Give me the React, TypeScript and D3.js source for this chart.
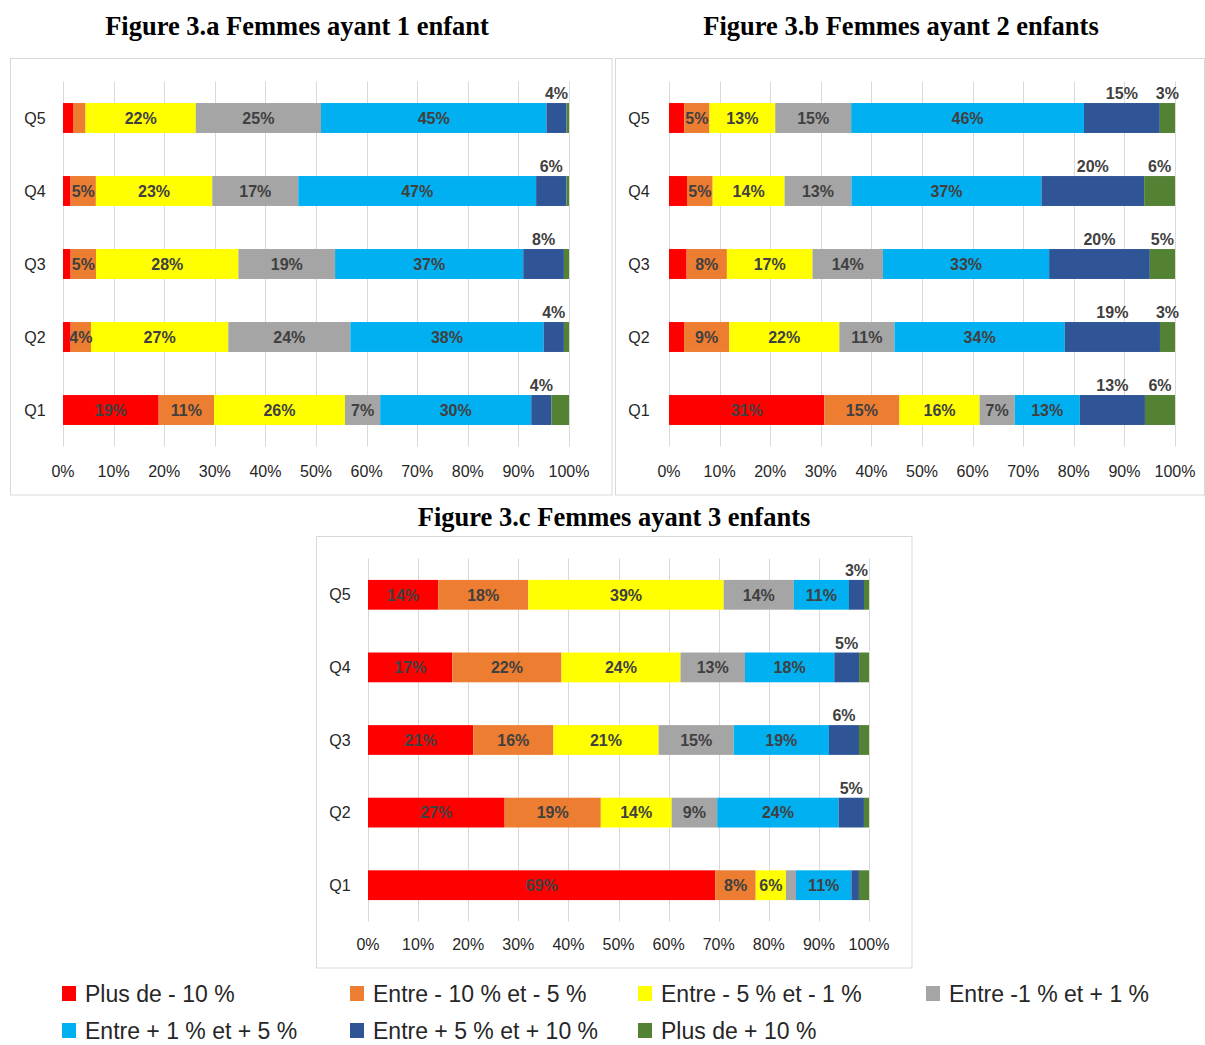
import React from "react";
import * as d3 from "d3";

// Quintiles, top to bottom
const categories = ["Q5", "Q4", "Q3", "Q2", "Q1"];

// Classes of change, in stacking order
const seriesNames = [
  "Plus de - 10 %",
  "Entre - 10 % et - 5 %",
  "Entre - 5 % et - 1 %",
  "Entre -1 % et + 1 %",
  "Entre + 1 % et + 5 %",
  "Entre + 5 % et + 10 %",
  "Plus de + 10 %",
];

const seriesColors = ["#FF0000", "#ED7D31", "#FFFF00", "#A5A5A5", "#00B0F0", "#2F5597", "#548235"];

const tickValues = [0, 0.1, 0.2, 0.3, 0.4, 0.5, 0.6, 0.7, 0.8, 0.9, 1];

// Shares (%) per quintile, rows follow `categories`, columns follow `seriesNames`
const unEnfant = [
  [2, 2.5, 22, 25, 45, 4, 0.5],
  [1.5, 5, 23, 17, 47, 6, 0.5],
  [1.5, 5, 28, 19, 37, 8, 1],
  [1.5, 4, 27, 24, 38, 4, 1],
  [19, 11, 26, 7, 30, 4, 3.5],
];

const deuxEnfants = [
  [3, 5, 13, 15, 46, 15, 3],
  [3.5, 5, 14, 13, 37, 20, 6],
  [3.5, 8, 17, 14, 33, 20, 5],
  [3, 9, 22, 11, 34, 19, 3],
  [31, 15, 16, 7, 13, 13, 6],
];

const troisEnfants = [
  [14, 18, 39, 14, 11, 3, 1],
  [17, 22, 24, 13, 18, 5, 2],
  [21, 16, 21, 15, 19, 6, 2],
  [27, 19, 14, 9, 24, 5, 1],
  [69, 8, 6, 2, 11, 1.5, 2],
];

const titles = [
  "Figure 3.a Femmes ayant 1 enfant",
  "Figure 3.b Femmes ayant 2 enfants",
  "Figure 3.c Femmes ayant 3 enfants",
];

// Panel geometry
const panels = [
  { data: unEnfant, title: titles[0], titleX: 297, titleY: 35, box: [10.5, 58.5, 612, 495], x0: 63, x1: 569, y0: 81.5, y1: 446.5, tickY: 477, qX: 35, greenLabels: false },
  { data: deuxEnfants, title: titles[1], titleX: 901, titleY: 35, box: [615.5, 58.5, 1204.5, 495], x0: 669, x1: 1175, y0: 81.5, y1: 446.5, tickY: 477, qX: 639, greenLabels: true },
  { data: troisEnfants, title: titles[2], titleX: 614, titleY: 526, box: [316.5, 536.5, 912, 968], x0: 368, x1: 869, y0: 558.5, y1: 921.5, tickY: 950, qX: 340, greenLabels: false },
];

const SANS = "'Liberation Sans', Arial, sans-serif";
const SERIF = "'Liberation Serif', 'Times New Roman', serif";
const LABEL = "#404040";

function Panel({ p }: { p: (typeof panels)[number] }) {
  const x = d3.scaleLinear().domain([0, 1]).range([p.x0, p.x1]);
  const y = d3
    .scaleBand<string>()
    .domain(categories)
    .range([p.y0, p.y1])
    .paddingInner(0.59)
    .paddingOuter(0.295);

  const rows = categories.map((c, i) => {
    const r: Record<string, any> = { cat: c };
    seriesNames.forEach((_, j) => (r[j] = p.data[i][j]));
    return r;
  });
  const keys = seriesNames.map((_, j) => String(j));
  const stacked = d3.stack<any>().keys(keys).offset(d3.stackOffsetExpand)(rows);
  const bw = y.bandwidth();
  const [bx0, by0, bx1, by1] = p.box;

  return (
    <g>
      <text x={p.titleX} y={p.titleY} textAnchor="middle" fontFamily={SERIF} fontWeight="bold" fontSize={26.5} fill="#000">
        {p.title}
      </text>
      <rect x={bx0} y={by0} width={bx1 - bx0} height={by1 - by0} fill="#fff" stroke="#D9D9D9" strokeWidth={1} />
      {tickValues.map((t) => (
        <line key={t} x1={Math.round(x(t)) + 0.5} x2={Math.round(x(t)) + 0.5} y1={p.y0} y2={p.y1} stroke="#D9D9D9" strokeWidth={1} />
      ))}
      {tickValues.map((t) => (
        <text key={"t" + t} x={x(t)} y={p.tickY} textAnchor="middle" fontFamily={SANS} fontSize={16} fill="#262626">
          {d3.format(".0%")(t)}
        </text>
      ))}
      {categories.map((c) => (
        <text key={c} x={p.qX} y={(y(c) as number) + bw / 2} dy="0.35em" textAnchor="middle" fontFamily={SANS} fontSize={16} fill="#262626">
          {c}
        </text>
      ))}
      {stacked.map((layer, j) => (
        <g key={j}>
          {layer.map((seg, i) => {
            const c = categories[i];
            const top = y(c) as number;
            const xa = x(seg[0]);
            const xb = x(seg[1]);
            return <rect key={c} x={xa} y={top} width={Math.max(0, xb - xa)} height={bw} fill={seriesColors[j]} />;
          })}
        </g>
      ))}
      {stacked.map((layer, j) =>
        layer.map((seg, i) => {
          const c = categories[i];
          const v = p.data[i][j];
          const top = y(c) as number;
          const cx = (x(seg[0]) + x(seg[1])) / 2;
          const txt = Math.round(v) + "%";
          if (j <= 4) {
            if (v < 3.75) return null;
            return (
              <text key={j + c} x={cx} y={top + bw / 2} dy="0.36em" textAnchor="middle" fontFamily={SANS} fontWeight="bold" fontSize={16} fill={LABEL}>
                {txt}
              </text>
            );
          }
          if (v < 3) return null;
          if (j === 6 && !p.greenLabels) return null;
          return (
            <text key={j + c} x={cx} y={top - 4} textAnchor="middle" fontFamily={SANS} fontWeight="bold" fontSize={16} fill={LABEL}>
              {txt}
            </text>
          );
        })
      )}
    </g>
  );
}

// Legend layout: four columns, two rows
const legendCols = [62, 350, 638, 926];
const legendRows = [994, 1031];

export default function App() {
  return (
    <svg width={1205} height={1045} style={{ position: "absolute", left: 0, top: 0, background: "#fff" }}>
      <rect x={0} y={0} width={1205} height={1045} fill="#fff" />
      {panels.map((p, k) => (
        <Panel key={k} p={p} />
      ))}
      {seriesNames.map((name, j) => {
        const lx = legendCols[j % 4];
        const ly = legendRows[Math.floor(j / 4)];
        return (
          <g key={name}>
            <rect x={lx} y={ly - 8} width={14} height={15} fill={seriesColors[j]} />
            <text x={lx + 23} y={ly} dy="0.36em" fontFamily={SANS} fontSize={23} fill="#262626">
              {name}
            </text>
          </g>
        );
      })}
    </svg>
  );
}
